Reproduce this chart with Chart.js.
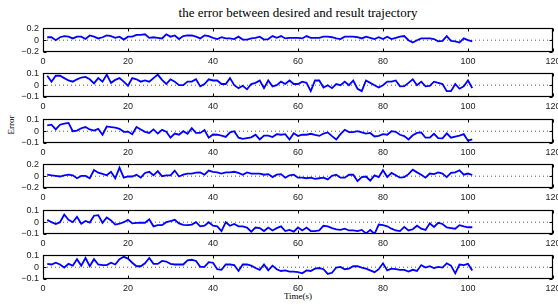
<!DOCTYPE html>
<html>
<head>
<meta charset="utf-8">
<script src="https://cdn.jsdelivr.net/npm/chart.js@4/dist/chart.umd.min.js"></script>
<style>
  html, body { margin: 0; padding: 0; background: #fff; }
  #wrap { position: relative; width: 558px; height: 305px; overflow: hidden; background: #fff; }
  #wrap canvas { position: absolute; left: 0; }
  .lbl { position: absolute; font-family: "Liberation Serif", "Times New Roman", serif; color: #000; white-space: nowrap; }
  #title { left: 0; width: 596px; top: 5px; text-align: center; font-size: 13px; }
  #xlab { left: 0; width: 596px; top: 291px; text-align: center; font-size: 9px; }
  #ylab { left: 11px; top: 125px; font-size: 9px; transform: translate(-50%, -50%) rotate(-90deg); }
</style>
</head>
<body>
<div id="wrap">
  <div id="title" class="lbl">the error between desired and result trajectory</div>
  <div id="ylab" class="lbl">Error</div>
  <div id="xlab" class="lbl">Time(s)</div>
</div>
<script>
// time samples (s)
const time = [1,2,3,4,5,6,7,8,9,10,11,12,13,14,15,16,17,18,19,20,
  21,22,23,24,25,26,27,28,29,30,31,32,33,34,35,36,37,38,39,40,
  41,42,43,44,45,46,47,48,49,50,51,52,53,54,55,56,57,58,59,60,
  61,62,63,64,65,66,67,68,69,70,71,72,73,74,75,76,77,78,79,80,
  81,82,83,84,85,86,87,88,89,90,91,92,93,94,95,96,97,98,99,100,101];

const err1 = [0.05,0.05,0.0,0.05,0.07,0.06,0.03,0.06,0.06,0.02,
  0.08,0.06,0.03,0.05,0.08,0.07,0.04,0.06,0.01,0.06,
  0.06,0.09,0.09,0.1,0.04,0.05,0.04,0.03,0.1,0.06,
  0.08,0.02,0.07,0.08,0.08,0.06,0.03,0.08,0.07,0.04,
  0.02,0.05,0.03,0.03,0.02,0.06,0.01,0.01,0.03,0.04,
  0.06,0.01,0.02,0.07,0.04,0.07,0.03,0.04,0.04,0.04,
  0.03,0.07,0.04,0.04,0.04,0.06,0.06,0.05,0.03,0.02,
  0.06,0.06,0.06,0.05,0.03,0.06,0.04,0.02,0.05,0.02,
  0.06,0.02,0.04,0.06,0.07,0.0,-0.04,0.0,0.03,0.03,
  0.03,0.02,-0.02,-0.01,0.07,-0.01,-0.02,-0.04,0.03,0.0,-0.02];

const err2 = [0.08,0.03,0.08,0.08,0.06,0.04,0.03,0.05,0.065,0.07,
  0.05,0.015,0.06,0.03,0.09,0.02,0.045,0.06,0.03,-0.005,
  0.06,0.05,0.03,0.04,0.03,0.06,0.09,0.045,0.01,0.05,
  0.03,0.0,0.0,0.03,0.03,0.05,-0.01,0.01,0.05,0.04,
  0.04,0.01,0.01,0.06,0.0,-0.025,-0.005,-0.035,0.01,0.02,
  0.04,-0.025,0.04,-0.01,0.0,0.03,0.01,0.04,0.01,0.01,
  0.03,0.02,-0.05,0.04,0.04,-0.02,0.0,-0.025,0.01,0.0,
  0.03,0.0,0.04,-0.03,-0.05,0.04,0.02,0.0,-0.02,0.0,
  0.03,0.03,0.04,-0.01,-0.008,0.02,0.05,0.0,0.03,-0.01,
  -0.005,0.03,0.02,0.01,-0.05,-0.05,0.01,-0.03,-0.01,0.04,-0.025];

const err3 = [0.05,0.055,0.015,0.055,0.065,0.07,0.0,0.005,0.025,0.035,
  0.015,0.005,0.02,-0.03,0.04,0.035,0.03,0.02,-0.005,-0.003,
  -0.025,0.035,0.015,-0.005,-0.015,0.015,-0.02,0.012,-0.005,-0.055,
  -0.02,-0.03,0.0,-0.022,0.025,-0.015,-0.015,0.01,-0.055,-0.028,
  -0.03,-0.038,-0.048,-0.01,0.0,-0.055,-0.065,-0.058,-0.052,-0.03,
  -0.07,-0.038,-0.038,-0.05,-0.025,-0.03,-0.025,-0.07,-0.018,-0.04,
  -0.03,-0.03,-0.022,-0.032,-0.04,-0.02,-0.01,-0.042,-0.07,-0.025,
  0.012,-0.008,-0.008,0.0,-0.01,-0.02,-0.015,-0.045,-0.04,-0.025,
  -0.03,0.0,-0.005,-0.03,-0.042,-0.07,-0.035,-0.015,-0.01,-0.055,
  -0.055,-0.022,-0.058,-0.06,-0.018,-0.055,-0.045,-0.038,-0.025,-0.08,-0.07];

const err4 = [0.025,0.015,0.005,-0.005,0.015,0.025,0.015,-0.035,0.005,0.005,
  -0.035,0.105,0.06,0.04,0.015,0.075,-0.035,0.145,-0.025,-0.005,
  -0.005,0.025,-0.025,0.055,0.075,0.015,0.085,0.0,0.015,0.015,
  0.095,-0.005,0.025,0.045,0.045,0.06,0.065,0.025,0.095,0.075,
  0.065,0.045,0.065,0.065,0.075,0.055,0.025,0.065,0.045,0.045,
  0.045,0.025,0.035,-0.015,0.025,0.035,-0.025,0.015,0.025,-0.025,
  -0.025,-0.035,-0.025,-0.045,-0.035,-0.025,-0.055,0.005,0.025,-0.025,
  -0.025,0.025,0.025,-0.085,-0.015,-0.005,-0.075,0.015,-0.015,0.1,
  -0.015,0.055,0.015,-0.025,-0.015,0.035,0.11,0.065,0.025,-0.025,
  0.045,0.035,0.065,0.045,-0.015,0.055,0.065,0.1,0.025,0.045,0.02];

const err5 = [0.02,0.0,-0.015,0.0,0.065,0.02,0.0,0.045,-0.013,0.01,
  -0.003,0.055,0.06,-0.005,0.04,0.015,-0.02,-0.013,0.0,0.02,
  -0.01,-0.005,-0.003,-0.005,0.025,-0.035,-0.025,-0.025,0.0,0.01,
  0.02,-0.01,-0.023,-0.025,-0.02,0.0,-0.035,-0.03,0.0,-0.03,
  -0.035,-0.075,0.0,-0.03,-0.015,-0.035,-0.035,-0.045,-0.08,-0.045,
  -0.05,-0.075,-0.045,-0.07,-0.05,-0.035,-0.075,-0.065,-0.08,-0.045,
  -0.07,-0.045,-0.075,-0.075,-0.07,-0.03,-0.035,-0.05,-0.06,-0.065,
  -0.055,-0.07,-0.07,-0.075,-0.065,-0.095,-0.065,-0.1,-0.02,-0.025,
  -0.035,-0.055,-0.07,-0.075,-0.04,-0.07,-0.06,-0.03,-0.055,-0.065,
  -0.01,-0.04,-0.005,-0.015,-0.045,-0.05,-0.055,-0.025,-0.035,-0.043,-0.043];

const err6 = [0.028,0.023,0.038,0.023,-0.003,0.028,0.013,0.068,0.013,0.078,
  0.008,0.068,0.023,0.018,0.018,0.038,0.023,0.068,0.088,0.073,
  0.038,0.008,0.008,0.033,0.078,0.028,0.028,0.053,0.048,0.028,
  0.023,0.023,0.023,0.058,0.063,0.053,0.003,0.003,0.043,0.038,
  -0.017,-0.022,0.023,0.023,0.018,-0.032,0.023,0.023,0.013,-0.007,
  -0.022,0.023,-0.027,0.013,-0.017,-0.032,-0.027,-0.037,-0.037,-0.042,
  -0.052,-0.027,-0.032,-0.012,-0.007,-0.017,-0.057,-0.047,-0.003,0.003,
  -0.017,-0.012,0.008,0.008,-0.003,-0.012,-0.027,-0.042,-0.017,0.033,
  -0.027,-0.012,-0.017,-0.022,-0.022,-0.037,-0.022,-0.032,0.018,-0.003,
  0.008,-0.007,0.003,-0.003,0.033,0.013,-0.052,0.023,0.018,0.028,-0.027];

// y limits of each subplot (symmetric), and the x axis range
const yLimits = [0.2, 0.1, 0.1, 0.2, 0.1, 0.1];
const xRange = [0, 120];
const xStep = 20;
const zeroLine = [0, 0];

const series = [err1, err2, err3, err4, err5, err6];

// matlab-like box with inward tick marks
const boxTicks = {
    id: 'boxTicks',
    afterDatasetsDraw(chart) {
        const { ctx, chartArea: a, scales } = chart;
        const L = Math.round(a.left) + 0.5, R = Math.round(a.right) - 0.5;
        const T = Math.round(a.top) + 0.5, B = Math.round(a.bottom) - 0.5;
        ctx.save();
        ctx.strokeStyle = '#000';
        ctx.lineWidth = 1;
        ctx.beginPath();
        scales.x.ticks.forEach(t => {
            const px = Math.round(scales.x.getPixelForValue(t.value)) + 0.5;
            ctx.moveTo(px, B); ctx.lineTo(px, B - 3);
            ctx.moveTo(px, T); ctx.lineTo(px, T + 3);
        });
        scales.y.ticks.forEach(t => {
            const py = Math.round(scales.y.getPixelForValue(t.value)) + 0.5;
            ctx.moveTo(L, py); ctx.lineTo(L + 3, py);
            ctx.moveTo(R, py); ctx.lineTo(R - 3, py);
        });
        ctx.stroke();
        ctx.lineWidth = 1.2;
        ctx.strokeRect(L, T, R - L, B - T);
        ctx.restore();
    }
};

function fmt(v) {
    if (Math.abs(v) < 1e-9) return '0';
    const s = Math.abs(v).toFixed(1);
    return v < 0 ? '\u2212' + s : s;
}

const wrap = document.getElementById('wrap');
const tickFont = { family: '"Liberation Sans", Arial, sans-serif', size: 9 };

series.forEach((vals, i) => {
    const plotTop = 25 + i * 45.4;
    const canvas = document.createElement('canvas');
    canvas.width = 572;
    canvas.height = 50;
    canvas.style.top = (plotTop - 6) + 'px';
    wrap.appendChild(canvas);

    const lim = yLimits[i];
    new Chart(canvas, {
        type: 'line',
        data: {
            datasets: [{
                data: time.map((t, k) => ({ x: t, y: vals[k] })),
                borderColor: '#0000ff',
                borderWidth: 1.8,
                pointRadius: 0,
                tension: 0,
                fill: false
            }, {
                data: xRange.map((t, k) => ({ x: t, y: zeroLine[k] })),
                borderColor: '#555',
                borderWidth: 1,
                borderDash: [1, 3],
                pointRadius: 0,
                fill: false
            }]
        },
        options: {
            responsive: false,
            animation: false,
            devicePixelRatio: 1,
            layout: { padding: { top: 6, right: 19, bottom: 0, left: 0 } },
            plugins: { legend: { display: false }, tooltip: { enabled: false } },
            scales: {
                x: {
                    type: 'linear',
                    min: xRange[0],
                    max: xRange[1],
                    grid: { display: false, drawTicks: false },
                    border: { display: false },
                    ticks: { stepSize: xStep, padding: 4, autoSkip: false, color: '#222', font: tickFont, maxRotation: 0 },
                    afterFit: s => { s.height = 17; }
                },
                y: {
                    min: -lim,
                    max: lim,
                    grid: { display: false, drawTicks: false },
                    border: { display: false },
                    ticks: { stepSize: lim, padding: 4, autoSkip: false, color: '#222', font: tickFont, callback: v => fmt(v) },
                    afterFit: s => { s.width = 43; }
                }
            }
        },
        plugins: [boxTicks]
    });
});
</script>
</body>
</html>
